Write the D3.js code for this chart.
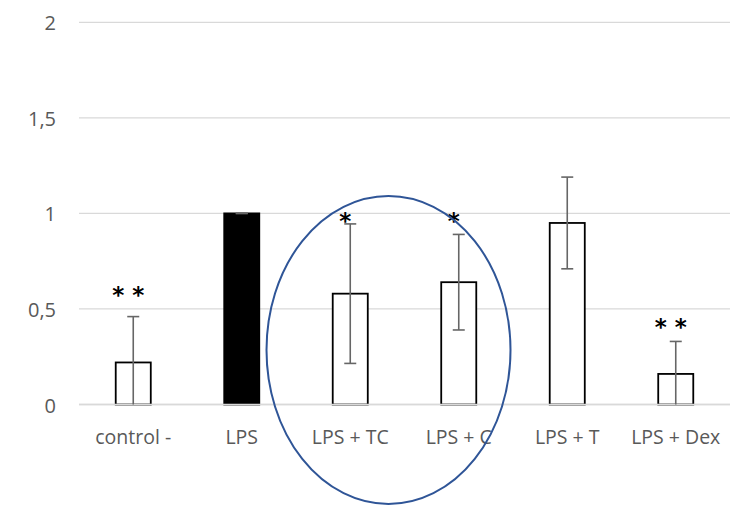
<!DOCTYPE html>
<html>
<head>
<meta charset="utf-8">
<script src="https://cdn.jsdelivr.net/npm/d3@7"></script>
<style>
  html, body { margin: 0; padding: 0; background: #fff; }
  svg { display: block; }
</style>
</head>
<body>
<svg id="chart" width="744" height="505"></svg>
<script>
// Relative expression by treatment, mean ± error
const categories = ["control -", "LPS", "LPS + TC", "LPS + C", "LPS + T", "LPS + Dex"];
const values = [0.22, 1.0, 0.58, 0.64, 0.95, 0.16];
const errors = [0.24, 0.0, 0.365, 0.25, 0.24, 0.17];
// significance marks and the value level each one sits at
const significance = ["* *", "", "*", "*", "", "* *"];
const significanceLevel = [0.60, null, 0.985, 0.985, null, 0.43];
const yTicks = [0, 0.5, 1, 1.5, 2];
const yTickLabels = ["0", "0,5", "1", "1,5", "2"];
const highlighted = ["LPS + TC", "LPS + C"];

const svg = d3.select("#chart");
const font = "'Open Sans', 'Noto Sans', sans-serif";

const x = d3.scaleBand()
  .domain(categories)
  .range([79, 730])
  .paddingInner(0.677)
  .paddingOuter(0.3385);

const y = d3.scaleLinear().domain([0, 2]).range([404.5, 22.3]);
const cx = c => x(c) + x.bandwidth() / 2;

// horizontal gridlines
svg.append("g")
  .selectAll("line")
  .data(yTicks)
  .join("line")
  .attr("x1", 79).attr("x2", 730)
  .attr("y1", d => y(d)).attr("y2", d => y(d))
  .attr("stroke", "#d9d9d9").attr("stroke-width", 1.3);

// y-axis labels
svg.append("g")
  .selectAll("text")
  .data(yTicks)
  .join("text")
  .attr("x", 56)
  .attr("y", d => y(d) + 8)
  .attr("text-anchor", "end")
  .attr("font-family", font)
  .attr("font-size", 20)
  .attr("fill", "#595959")
  .text((d, i) => yTickLabels[i]);

// bars
svg.append("g")
  .selectAll("rect")
  .data(values)
  .join("rect")
  .attr("x", (d, i) => x(categories[i]))
  .attr("y", d => y(d))
  .attr("width", x.bandwidth())
  .attr("height", d => y(0) - y(d))
  .attr("fill", (d, i) => categories[i] === "LPS" ? "#000" : "#fff")
  .attr("stroke", "#000")
  .attr("stroke-width", 1.8);

// baseline over bar bottoms
svg.append("line")
  .attr("x1", 79).attr("x2", 730)
  .attr("y1", y(0)).attr("y2", y(0))
  .attr("stroke", "#d9d9d9").attr("stroke-width", 1.3);

// error bars
const eb = svg.append("g").attr("stroke", "#666").attr("stroke-width", 1.6);
values.forEach((v, i) => {
  const c = cx(categories[i]);
  const hi = v + errors[i];
  const lo = Math.max(0, v - errors[i]);
  eb.append("line").attr("x1", c).attr("x2", c).attr("y1", y(hi)).attr("y2", y(lo));
  eb.append("line").attr("x1", c - 6).attr("x2", c + 6).attr("y1", y(hi)).attr("y2", y(hi));
  if (v - errors[i] > 0) {
    eb.append("line").attr("x1", c - 6).attr("x2", c + 6).attr("y1", y(lo)).attr("y2", y(lo));
  }
});

// significance marks
svg.append("g")
  .selectAll("text")
  .data(significance.map((s, i) => ({ s, i })).filter(d => d.s))
  .join("text")
  .attr("x", d => cx(categories[d.i]) - 5)
  .attr("y", d => y(significanceLevel[d.i]) + 13)
  .attr("text-anchor", "middle")
  .attr("font-family", "'DejaVu Sans', sans-serif")
  .attr("font-weight", "bold")
  .attr("font-size", 23)
  .attr("fill", "#000")
  .text(d => d.s);

// category labels
svg.append("g")
  .selectAll("text")
  .data(categories)
  .join("text")
  .attr("x", d => cx(d))
  .attr("y", 444)
  .attr("text-anchor", "middle")
  .attr("font-family", font)
  .attr("font-size", 19.5)
  .attr("fill", "#595959")
  .text(d => d);

// ellipse around the highlighted treatments
const mid = (cx(highlighted[0]) + cx(highlighted[1])) / 2;
svg.append("ellipse")
  .attr("cx", mid - 16)
  .attr("cy", 350)
  .attr("rx", 122)
  .attr("ry", 154)
  .attr("fill", "none")
  .attr("stroke", "#2f5597")
  .attr("stroke-width", 2);
</script>
</body>
</html>
